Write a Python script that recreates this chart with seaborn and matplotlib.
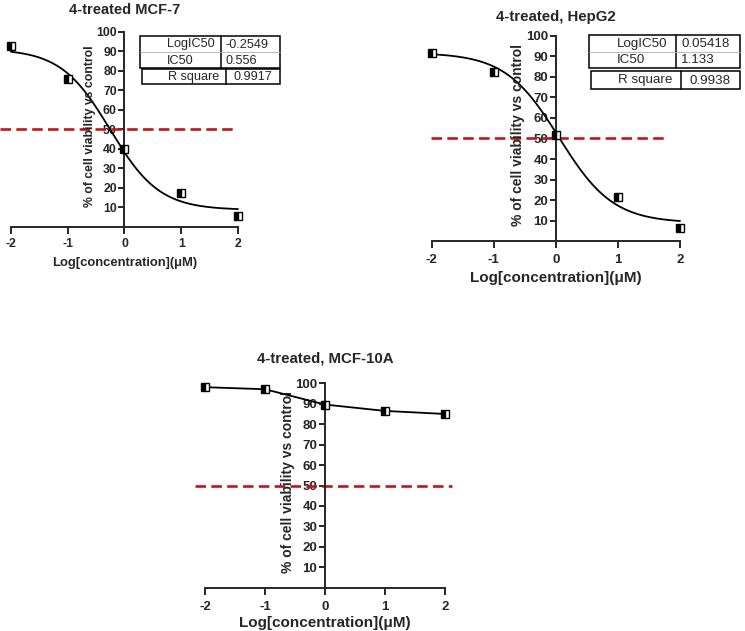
import numpy as np
import pandas as pd
import matplotlib
matplotlib.use("Agg")
import matplotlib.pyplot as plt
from matplotlib.patches import Rectangle
import seaborn as sns

# -------------------------------
# Data
# -------------------------------
log_conc = [-2, -1, 0, 1, 2]
mcf7_viability = [93.0, 76.0, 39.6, 17.0, 5.4]
hepg2_viability = [91.7, 82.5, 51.5, 21.3, 6.3]
mcf10a_viability = [98.1, 97.1, 89.6, 86.5, 85.0]

# fitted 4PL parameters: top, bottom, logIC50, hill slope
mcf7_fit = (91.3, 8.5, -0.2549, 1.0)
hepg2_fit = (91.7, 8.9, 0.05418, 1.0)

mcf7_table = [("LogIC50", "-0.2549"), ("IC50", "0.556"), ("R square", "0.9917")]
hepg2_table = [("LogIC50", "0.05418"), ("IC50", "1.133"), ("R square", "0.9938")]

titles = ["4-treated MCF-7", "4-treated, HepG2", "4-treated, MCF-10A"]
y_ticks = [10, 20, 30, 40, 50, 60, 70, 80, 90, 100]
cutoff = 50

W, H = 745, 631
RED = "#c0161b"

sns.set_style("ticks")
plt.rcParams['font.family'] = ['Liberation Sans', 'DejaVu Sans']

fig = plt.figure(figsize=(W / 100, H / 100), dpi=100)


def make_axes(xa, xb, y0, y100, xmargin=0.4):
    # xa/xb: pixel of x=-2 / x=2, y0/y100: pixel of y=0 / y=100
    ppu = (xb - xa) / 4
    left = (xa - xmargin * ppu) / W
    width = (4 + 2 * xmargin) * ppu / W
    bottom = (H - y0) / H
    height = (y0 - y100) / H
    ax = fig.add_axes([left, bottom, width, height])
    ax.set_xlim(-2 - xmargin, 2 + xmargin)
    ax.set_ylim(0, 100)
    return ax


def four_pl(x, top, bottom, logic50, hill):
    return bottom + (top - bottom) / (1 + 10 ** ((x - logic50) * hill))


def style_axes(ax, fs, xpad, title, title_y, xlabel_off):
    ax.patch.set_alpha(0)
    for s in ["top", "right"]:
        ax.spines[s].set_visible(False)
    ax.spines["left"].set_position(("data", 0))
    ax.spines["left"].set_bounds(0, 100)
    ax.spines["bottom"].set_bounds(-2, 2)
    for s in ["left", "bottom"]:
        ax.spines[s].set_linewidth(1.4)
    ax.set_xticks(log_conc)
    ax.set_xticklabels([str(v) for v in log_conc])
    ax.set_yticks(y_ticks)
    ax.set_yticklabels([str(v) for v in y_ticks])
    ax.tick_params(axis="x", length=5, width=1.4, pad=xpad, labelsize=fs["tick"])
    ax.tick_params(axis="y", length=4, width=1.4, pad=1.5, labelsize=fs["tick"])
    for lab in ax.get_xticklabels() + ax.get_yticklabels():
        lab.set_fontweight("bold")
    ax.set_xlabel("")
    ax.set_ylabel("")
    ax.text(0, title_y, title, ha="center", va="center", fontsize=fs["title"],
            fontweight="bold", clip_on=False)
    ax.text(0.5, -xlabel_off, "Log[concentration](\u03bcM)", transform=ax.transAxes,
            ha="center", va="center", fontsize=fs["xlabel"], fontweight="bold")
    ax.text(-0.61, 51.5, "% of cell viability vs control", rotation=90,
            ha="center", va="center", fontsize=fs["ylabel"], fontweight="bold")


def draw_points(ax, y, with_line=False):
    sns.lineplot(x=log_conc, y=y, ax=ax, color="black",
                 linestyle="-" if with_line else "none", lw=1.3,
                 marker="s", ms=5.4, fillstyle="left", mfc="black",
                 markerfacecoloralt="white", mec="black", mew=1.0,
                 clip_on=False, zorder=4)


def draw_curve(ax, fit):
    xs = np.linspace(-2, 2, 200)
    curve = pd.DataFrame({"x": xs, "y": four_pl(xs, *fit)})
    sns.lineplot(data=curve, x="x", y="y", ax=ax, color="black", lw=1.3, zorder=3)


# -------------------------------
# Panels
# -------------------------------
small = {"title": 10.5, "xlabel": 9.4, "ylabel": 8.8, "tick": 8.8}
large = {"title": 10.8, "xlabel": 11, "ylabel": 10, "tick": 9.5}

ax1 = make_axes(11, 238, 226.5, 32)
ax1.hlines(cutoff, -2.19, 1.95, colors=RED, linestyles=(0, (4, 2)), lw=1.9, zorder=2)
draw_curve(ax1, mcf7_fit)
draw_points(ax1, mcf7_viability)
style_axes(ax1, small, 3, titles[0], 111.5, 36.5 / 194.5)

ax2 = make_axes(431.7, 680, 241.2, 35.7)
ax2.hlines(cutoff, -2.01, 1.8, colors=RED, linestyles=(0, (4, 2)), lw=1.9, zorder=2)
draw_curve(ax2, hepg2_fit)
draw_points(ax2, hepg2_viability)
style_axes(ax2, large, 4.5, titles[1], 109, 37.0 / 205.5)

ax3 = make_axes(205, 445, 587.8, 383.3)
ax3.hlines(cutoff, -2.17, 2.11, colors=RED, linestyles=(0, (4, 2)), lw=1.9, zorder=2)
draw_points(ax3, mcf10a_viability, with_line=True)
style_axes(ax3, large, 4.5, titles[2], 112, 35.0 / 204.5)

# -------------------------------
# Result tables (pixel coordinates overlay)
# -------------------------------
ov = fig.add_axes([0, 0, 1, 1])
ov.set_xlim(0, W)
ov.set_ylim(H, 0)
ov.axis("off")


def draw_table(rows, top_box, bottom_box, name_x, fsize):
    # top_box: (x0, x1, y0, y1, xdiv, ymid); bottom_box: (x0, x1, y0, y1, xdiv)
    x0, x1, y0, y1, xdiv, ymid = top_box
    ov.add_patch(Rectangle((x0, y0), x1 - x0, y1 - y0, fc="white", ec="black", lw=1.1))
    ov.plot([xdiv, xdiv], [y0, y1], color="black", lw=1.1)
    ov.plot([x0, x1], [ymid, ymid], color="#b0b0b0", lw=0.6)
    for (name, val), (ya, yb) in zip(rows[:2], [(y0, ymid), (ymid, y1)]):
        yc = (ya + yb) / 2 + 0.5
        ov.text(name_x, yc, name, ha="left", va="center", fontsize=fsize)
        ov.text(xdiv + 5, yc, val, ha="left", va="center", fontsize=fsize)
    bx0, bx1, by0, by1, bdiv = bottom_box
    ov.add_patch(Rectangle((bx0, by0), bx1 - bx0, by1 - by0, fc="white", ec="black", lw=1.1))
    ov.plot([bdiv, bdiv], [by0, by1], color="black", lw=1.1)
    yc = (by0 + by1) / 2 + 0.5
    ov.text(name_x + 1, yc, rows[2][0], ha="left", va="center", fontsize=fsize)
    ov.text((bdiv + bx1) / 2, yc, rows[2][1], ha="center", va="center", fontsize=fsize)


draw_table(mcf7_table, (140, 280, 35.7, 68.3, 221, 52.3), (141.7, 280, 69.3, 84.3, 226), 167, 9.1)
draw_table(hepg2_table, (589, 740, 35, 68, 676, 51.5), (591, 740, 71, 89, 681), 617, 9.6)

fig.savefig("out.png", dpi=100)
